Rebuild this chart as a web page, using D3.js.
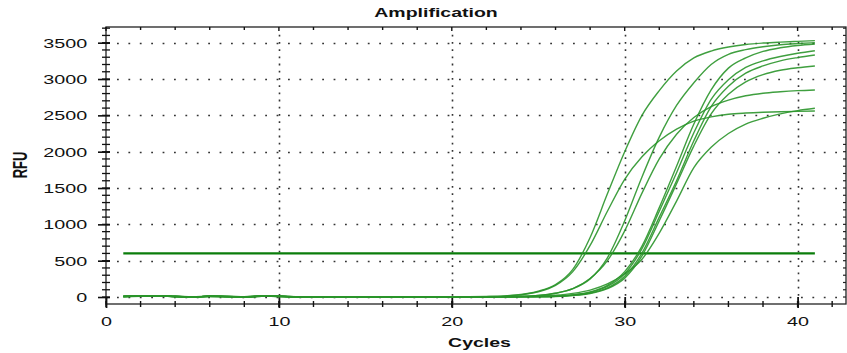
<!DOCTYPE html>
<html>
<head>
<meta charset="utf-8">
<script src="https://cdn.jsdelivr.net/npm/d3@7"></script>
<style>
  html, body { margin: 0; padding: 0; background: #fff; }
  svg { display: block; }
  text { font-family: "Liberation Sans", Arial, sans-serif; fill: #111; }
</style>
</head>
<body>
<div id="chart"></div>
<script>
// cycle numbers 1..41
var cycles = [1,2,3,4,5,6,7,8,9,10,11,12,13,14,15,16,17,18,19,20,21,22,23,24,25,26,27,28,29,30,31,32,33,34,35,36,37,38,39,40,41];

// RFU read per cycle, one array per well
var wellA = [10,16,14,6,0,12,8,2,14,10, 2,-2,-3,-3,-2,-1,0,1,2,3, 5,8,15,34,80,170,380,820,1420,2000, 2500,2840,3110,3290,3385,3440,3475,3495,3508,3518, 3528];
var wellB = [6,14,18,10,2,10,4,-2,12,8, 0,-3,-4,-3,-2,-2,-1,0,1,2, 4,6,12,30,72,160,350,710,1180,1620, 1930,2150,2310,2420,2480,2515,2532,2543,2550,2555, 2560];
var wellC = [8,12,16,8,-2,14,6,0,10,12, 4,0,-2,-4,-3,-2,-1,-1,0,1, 2,4,6,11,22,52,115,250,540,1048, 1652,2200,2636,2948,3200,3340,3405,3445,3472,3488, 3500];
var wellD = [4,10,14,12,4,8,6,0,10,8, 2,-1,-3,-4,-2,-1,0,0,1,2, 3,4,6,10,22,52,115,255,500,910, 1430,1900,2240,2470,2620,2710,2770,2805,2825,2840, 2850];
var wellE = [12,18,14,4,-2,10,10,4,16,12, 4,0,-2,-2,-3,-2,-1,0,0,1, 2,3,4,5,7,13,30,70,160,350, 700,1230,1800,2380,2850,3150,3290,3380,3430,3462, 3483];
var wellF = [6,12,16,8,0,8,8,2,12,10, 0,-2,-4,-3,-3,-2,-1,-1,0,1, 1,2,3,4,6,11,27,63,145,320, 665,1180,1710,2260,2720,2990,3160,3250,3310,3355, 3390];
var wellG = [10,14,12,6,2,12,4,-2,10,8, 2,-1,-3,-3,-2,-2,-1,0,0,1, 1,2,2,3,5,9,22,54,125,285, 605,1100,1600,2150,2620,2900,3080,3180,3250,3295, 3330];
var wellH = [8,16,14,10,0,10,6,0,14,12, 2,-2,-2,-4,-3,-1,-1,0,1,1, 1,1,2,3,4,8,20,48,115,260, 565,1050,1560,2080,2520,2790,2960,3060,3120,3155, 3180];
var wellI = [6,12,14,8,-2,12,8,2,10,10, 0,-3,-3,-3,-2,-2,-1,0,0,0, 1,1,2,5,12,25,50,95,180,320, 520,880,1320,1780,2060,2250,2380,2460,2520,2565, 2597];

var threshold = 600;

var xTicks = [0,10,20,30,40];
var yTicks = [0,500,1000,1500,2000,2500,3000,3500];

var W = 847, H = 353;
var padL = 106, padR = 846, padT = 27, padB = 304;
var stretch = 1.52;   // the picture is wider than tall text would be

var svg = d3.select("#chart").append("svg")
    .attr("width", W)
    .attr("height", H);

var x = d3.scaleLinear().domain([0, 42.8]).range([padL, padR]);
var y = d3.scaleLinear().domain([-96, 3716]).range([padB, padT]);

var xMinor = d3.range(0, 43, 2);
var yMinor = d3.range(0, 3701, 100);

// dotted grid
svg.append("g").selectAll("line").data(yTicks).join("line")
    .attr("x1", padL + 1).attr("x2", padR)
    .attr("y1", function (d) { return Math.round(y(d)) + 0.5; })
    .attr("y2", function (d) { return Math.round(y(d)) + 0.5; })
    .attr("stroke", "#333").attr("stroke-width", 1.6)
    .attr("stroke-dasharray", "1.8 9.6").attr("stroke-dashoffset", -10);

svg.append("g").selectAll("line").data(xTicks.slice(1)).join("line")
    .attr("x1", function (d) { return Math.round(x(d)) + 0.5; })
    .attr("x2", function (d) { return Math.round(x(d)) + 0.5; })
    .attr("y1", padB - 1).attr("y2", padT + 3)
    .attr("stroke", "#333").attr("stroke-width", 1.6)
    .attr("stroke-dasharray", "1.8 5.4");

// frame
svg.append("rect")
    .attr("x", padL).attr("y", padT)
    .attr("width", padR - padL).attr("height", padB - padT)
    .attr("fill", "none").attr("stroke", "#222").attr("stroke-width", 1.3);

// y axis: ticks that cross the line
var yAxis = d3.axisLeft(y).tickValues(yTicks).tickFormat(d3.format("d")).tickSize(8).tickSizeOuter(0);
var gy = svg.append("g").attr("transform", "translate(" + padL + ",0)").call(yAxis);
gy.select(".domain").remove();
gy.selectAll(".tick line").attr("x1", 4).attr("stroke", "#111").attr("stroke-width", 1.6);
gy.selectAll(".tick text")
    .attr("x", -18.7 / stretch)
    .attr("dy", "0.34em")
    .attr("transform", "scale(" + stretch + ",1)")
    .style("font-size", "13px").attr("fill", "#111");

svg.append("g").selectAll("line").data(yMinor).join("line")
    .attr("x1", padL - 4).attr("x2", padL + 4)
    .attr("y1", function (d) { return y(d); }).attr("y2", function (d) { return y(d); })
    .attr("stroke", "#111").attr("stroke-width", 1.3);

// right border ticks
svg.append("g").selectAll("line").data(yMinor).join("line")
    .attr("x1", padR - 3).attr("x2", padR)
    .attr("y1", function (d) { return y(d); }).attr("y2", function (d) { return y(d); })
    .attr("stroke", "#222").attr("stroke-width", 1.2);

// x axis
var xAxis = d3.axisBottom(x).tickValues(xTicks).tickFormat(d3.format("d")).tickSize(4).tickSizeOuter(0);
var gx = svg.append("g").attr("transform", "translate(0," + padB + ")").call(xAxis);
gx.select(".domain").remove();
gx.selectAll(".tick line").attr("y1", -7).attr("stroke", "#111").attr("stroke-width", 1.8);
gx.selectAll(".tick text")
    .attr("y", 22).attr("dy", 0)
    .attr("transform", "scale(" + stretch + ",1)")
    .style("font-size", "13px").attr("fill", "#111");

svg.append("g").selectAll("line").data(xMinor).join("line")
    .attr("x1", function (d) { return x(d); }).attr("x2", function (d) { return x(d); })
    .attr("y1", padB - 3).attr("y2", padB + 3)
    .attr("stroke", "#111").attr("stroke-width", 1.4);

// top border ticks
svg.append("g").selectAll("line").data(xMinor).join("line")
    .attr("x1", function (d) { return x(d); }).attr("x2", function (d) { return x(d); })
    .attr("y1", padT).attr("y2", function (d) { return d % 10 === 0 ? padT + 4 : padT + 3; })
    .attr("stroke", "#111").attr("stroke-width", 1.4);

// threshold
svg.append("line")
    .attr("x1", x(cycles[0])).attr("x2", x(cycles[cycles.length - 1]))
    .attr("y1", y(threshold)).attr("y2", y(threshold))
    .attr("stroke", "#0a7d0a").attr("stroke-width", 2.2);

// amplification curves
var wells = [wellI, wellH, wellG, wellF, wellE, wellD, wellC, wellB, wellA];
var line = d3.line()
    .x(function (d, i) { return x(cycles[i]); })
    .y(function (d) { return y(d); })
    .curve(d3.curveMonotoneX);

svg.append("g").selectAll("path").data(wells).join("path")
    .attr("d", line)
    .attr("fill", "none")
    .attr("stroke", "#2a952a")
    .attr("stroke-width", 1.4)
    .attr("stroke-opacity", 0.9);

// titles
svg.append("text")
    .attr("transform", "translate(436,16.7) scale(1.5,1)")
    .attr("text-anchor", "middle")
    .style("font-size", "13px").style("font-weight", "bold")
    .text("Amplification");

svg.append("text")
    .attr("transform", "translate(479.5,346.7) scale(1.5,1)")
    .attr("text-anchor", "middle")
    .style("font-size", "13px").style("font-weight", "bold")
    .text("Cycles");

svg.append("text")
    .attr("transform", "translate(26.7,165) scale(1.5,1) rotate(-90)")
    .attr("text-anchor", "middle")
    .style("font-size", "13px").style("font-weight", "bold")
    .text("RFU");
</script>
</body>
</html>
